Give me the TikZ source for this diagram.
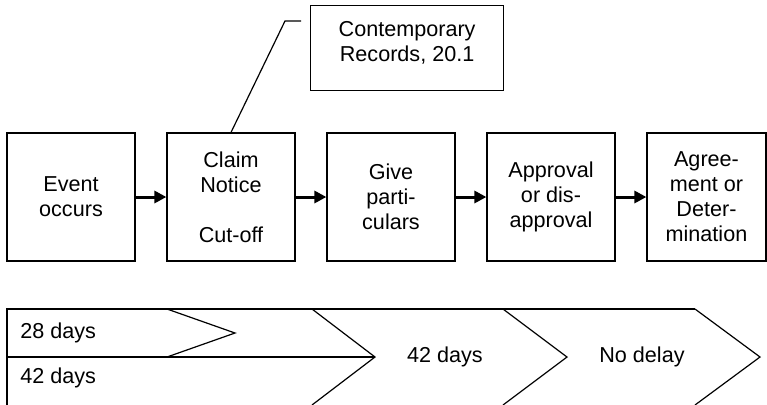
\documentclass[tikz,border=0pt]{standalone}
\usepackage{fontspec}
\setmainfont{Liberation Sans}
\usetikzlibrary{arrows.meta}

\begin{document}
\begin{tikzpicture}[x=0.5pt, y=-0.5pt,
	font=\fontsize{10.8}{12.5}\selectfont,
	stage/.style={draw, line width=0.6pt, align=center, minimum width=64pt, minimum height=64pt, inner sep=0pt},
	flow/.style={line width=1.5pt, -{Triangle[length=6pt, width=6pt]}},
	band/.style={line width=0.6pt},
	period/.style={inner sep=0pt}]
	\useasboundingbox (0,0) rectangle (767,404);

	% stages of the claim
	\node[stage] (event) at (71,197) {Event\\occurs};
	\node[stage] (notice) at (231,197) {Claim\\Notice\\\mbox{}\\Cut-off};
	\node[stage] (partic) at (391,197) {Give\\parti-\\culars};
	\node[stage] (approv) at (551,197) {Approval\\or dis-\\approval};
	\node[stage, minimum width=59.5pt] (agree) at (706.5,197) {Agree-\\ment or\\Deter-\\mination};

	\draw[flow] (event) -- (notice);
	\draw[flow] (notice) -- (partic);
	\draw[flow] (partic) -- (approv);
	\draw[flow] (approv) -- (agree);

	% records callout
	\node[draw, line width=0.6pt, align=center, anchor=north west, inner sep=0pt,
		minimum width=96.5pt, text height=27.75pt, text depth=14.75pt] (records) at (310,5)
		{Contemporary\\Records, 20.1};
	\coordinate (bend) at (285,21);
	\coordinate (tip) at (301,21);
	\draw[band] (notice.north) -- (bend) -- (tip);

	% time bands
	\draw[band] (7,405) -- (7,309) -- (695,309);
	\draw[band] (7,357) -- (375,357);
	\draw[band] (167,309) -- (235,333) -- (167,357);
	\draw[band] (312,309) -- (375,357) -- (312,405);
	\draw[band] (503,309) -- (567,357) -- (503,405);
	\draw[band] (695,309) -- (760,357) -- (695,405);

	\node[period, anchor=west] (first) at (20,333) {28 days};
	\node[period, anchor=west] (second) at (20,378) {42 days};
	\node[period] (third) at (445,357) {42 days};
	\node[period] (fourth) at (642,357) {No delay};
\end{tikzpicture}
\end{document}
